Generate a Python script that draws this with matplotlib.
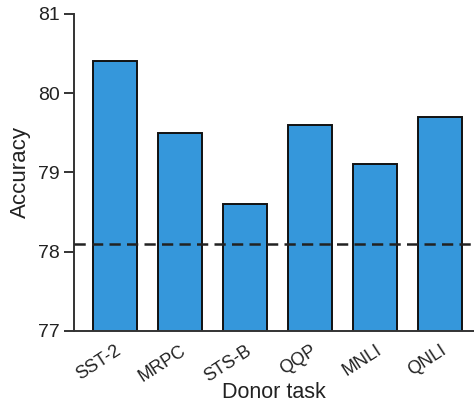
import matplotlib.pyplot as plt

tasks = ["SST-2", "MRPC", "STS-B", "QQP", "MNLI", "QNLI"]
accuracy = [80.4, 79.5, 78.6, 79.6, 79.1, 79.7]
baseline = 78.1

plt.rcParams['font.family'] = ['Liberation Sans', 'DejaVu Sans']

fig = plt.figure(figsize=(4.74, 4.07), dpi=100)
ax = fig.add_axes([0.156, 0.187, 0.844, 0.779])

x = range(len(tasks))
ax.bar(x, accuracy, width=0.67, color="#3597db", edgecolor="#111111",
       linewidth=1.4, zorder=2)
ax.axhline(baseline, color="#222222", linestyle=(0, (4.5, 2.5)), linewidth=1.8, zorder=3)

ax.set_ylim(77, 81)
ax.set_xlim(-0.63, 5.52)
ax.set_yticks([77, 78, 79, 80, 81])
ax.set_xticks(list(x))
ax.set_xticklabels(tasks, rotation=33, ha="right", rotation_mode="anchor")

ax.spines["top"].set_visible(False)
ax.spines["right"].set_visible(False)
for s in ("left", "bottom"):
    ax.spines[s].set_color("#333333")
    ax.spines[s].set_linewidth(1.4)

ax.tick_params(axis="y", length=7, width=1.4, color="#333333",
               labelsize=14, labelcolor="#222222", pad=3)
ax.tick_params(axis="x", length=0, labelsize=13, labelcolor="#222222", pad=8)

ax.set_xlabel("Donor task", fontsize=15.5, color="#222222", labelpad=-2)
ax.set_ylabel("Accuracy", fontsize=16, color="#222222", labelpad=5)

fig.savefig("out.png", dpi=100)
